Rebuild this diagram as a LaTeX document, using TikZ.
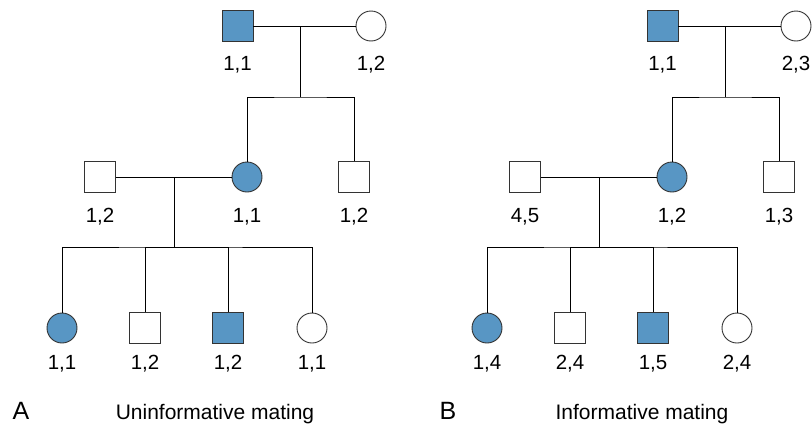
\documentclass[tikz,border=0pt]{standalone}
\usepackage{fontspec}
\setmainfont{Liberation Sans}
\usetikzlibrary{positioning}
\definecolor{bluefill}{RGB}{88,150,196}
\definecolor{edgegray}{RGB}{51,51,51}
\tikzstyle{male} = [
    rectangle,
    minimum size=31pt,
    inner sep=0pt,
    draw=edgegray,
    line width=0.9pt,
    fill=white
]
\tikzstyle{female} = [
    circle,
    minimum size=30pt,
    inner sep=0pt,
    draw=edgegray,
    line width=0.9pt,
    fill=white
]
\tikzstyle{shaded} = [fill=bluefill]
\tikzstyle{genotype} = [inner sep=0pt, font=\fontsize{20.5}{24}\selectfont]
\tikzstyle{caption} = [inner sep=0pt, anchor=base, font=\fontsize{21}{25}\selectfont]
\tikzstyle{panel} = [inner sep=0pt, anchor=base, font=\fontsize{25}{30}\selectfont]
\tikzstyle{line} = [line width=0.8pt, line cap=rect, black]

\begin{document}
\begin{tikzpicture}[x=1pt, y=-1pt]
\useasboundingbox (0,0) rectangle (812,426);

% A: uninformative mating
\node (gfA) [male, shaded] at (237.5,26) {};
\node (gmA) [female] at (371,26) {};
\node (moA) [female, shaded] at (247,177) {};
\node (unA) [male] at (354,177) {};
\node (faA) [male] at (100,177) {};
\node (k1A) [female, shaded] at (62,328) {};
\node (k2A) [male] at (145,328) {};
\node (k3A) [male, shaded] at (228,328) {};
\node (k4A) [female] at (312,328) {};

\coordinate (m1A) at (300,26);
\coordinate (s1A) at (300,97);
\coordinate (m2A) at (174,177);
\coordinate (s2A) at (174,247);

\draw [line] (gfA) -- (gmA);
\draw [line] (m1A) -- (s1A);
\draw [line] (moA) |- (s1A) -| (unA);
\draw [line] (faA) -- (moA);
\draw [line] (m2A) -- (s2A);
\draw [line] (k1A) |- (s2A) -| (k4A);
\draw [line] (s2A) -| (k2A);
\draw [line] (s2A) -| (k3A);

\node [genotype, below of=gfA, node distance=39pt] {1,1};
\node [genotype, below of=gmA, node distance=39pt] {1,2};
\node [genotype, below of=faA, node distance=40pt] {1,2};
\node [genotype, below of=moA, node distance=40pt] {1,1};
\node [genotype, below of=unA, node distance=40pt] {1,2};
\node [genotype, below of=k1A, node distance=36pt] {1,1};
\node [genotype, below of=k2A, node distance=36pt] {1,2};
\node [genotype, below of=k3A, node distance=36pt] {1,2};
\node [genotype, below of=k4A, node distance=36pt] {1,1};

\node (panA) [panel] at (21,419) {A};
\node (capA) [caption] at (215,419) {Uninformative mating};

% B: informative mating
\node (gfB) [male, shaded] at (662.5,26) {};
\node (gmB) [female] at (796,26) {};
\node (moB) [female, shaded] at (672,177) {};
\node (unB) [male] at (779,177) {};
\node (faB) [male] at (525,177) {};
\node (k1B) [female, shaded] at (487,328) {};
\node (k2B) [male] at (570,328) {};
\node (k3B) [male, shaded] at (653,328) {};
\node (k4B) [female] at (737,328) {};

\coordinate (m1B) at (725,26);
\coordinate (s1B) at (725,97);
\coordinate (m2B) at (599,177);
\coordinate (s2B) at (599,247);

\draw [line] (gfB) -- (gmB);
\draw [line] (m1B) -- (s1B);
\draw [line] (moB) |- (s1B) -| (unB);
\draw [line] (faB) -- (moB);
\draw [line] (m2B) -- (s2B);
\draw [line] (k1B) |- (s2B) -| (k4B);
\draw [line] (s2B) -| (k2B);
\draw [line] (s2B) -| (k3B);

\node [genotype, below of=gfB, node distance=39pt] {1,1};
\node [genotype, below of=gmB, node distance=39pt] {2,3};
\node [genotype, below of=faB, node distance=40pt] {4,5};
\node [genotype, below of=moB, node distance=40pt] {1,2};
\node [genotype, below of=unB, node distance=40pt] {1,3};
\node [genotype, below of=k1B, node distance=36pt] {1,4};
\node [genotype, below of=k2B, node distance=36pt] {2,4};
\node [genotype, below of=k3B, node distance=36pt] {1,5};
\node [genotype, below of=k4B, node distance=36pt] {2,4};

\node (panB) [panel] at (448,419) {B};
\node (capB) [caption] at (642,419) {Informative mating};

\end{tikzpicture}
\end{document}
